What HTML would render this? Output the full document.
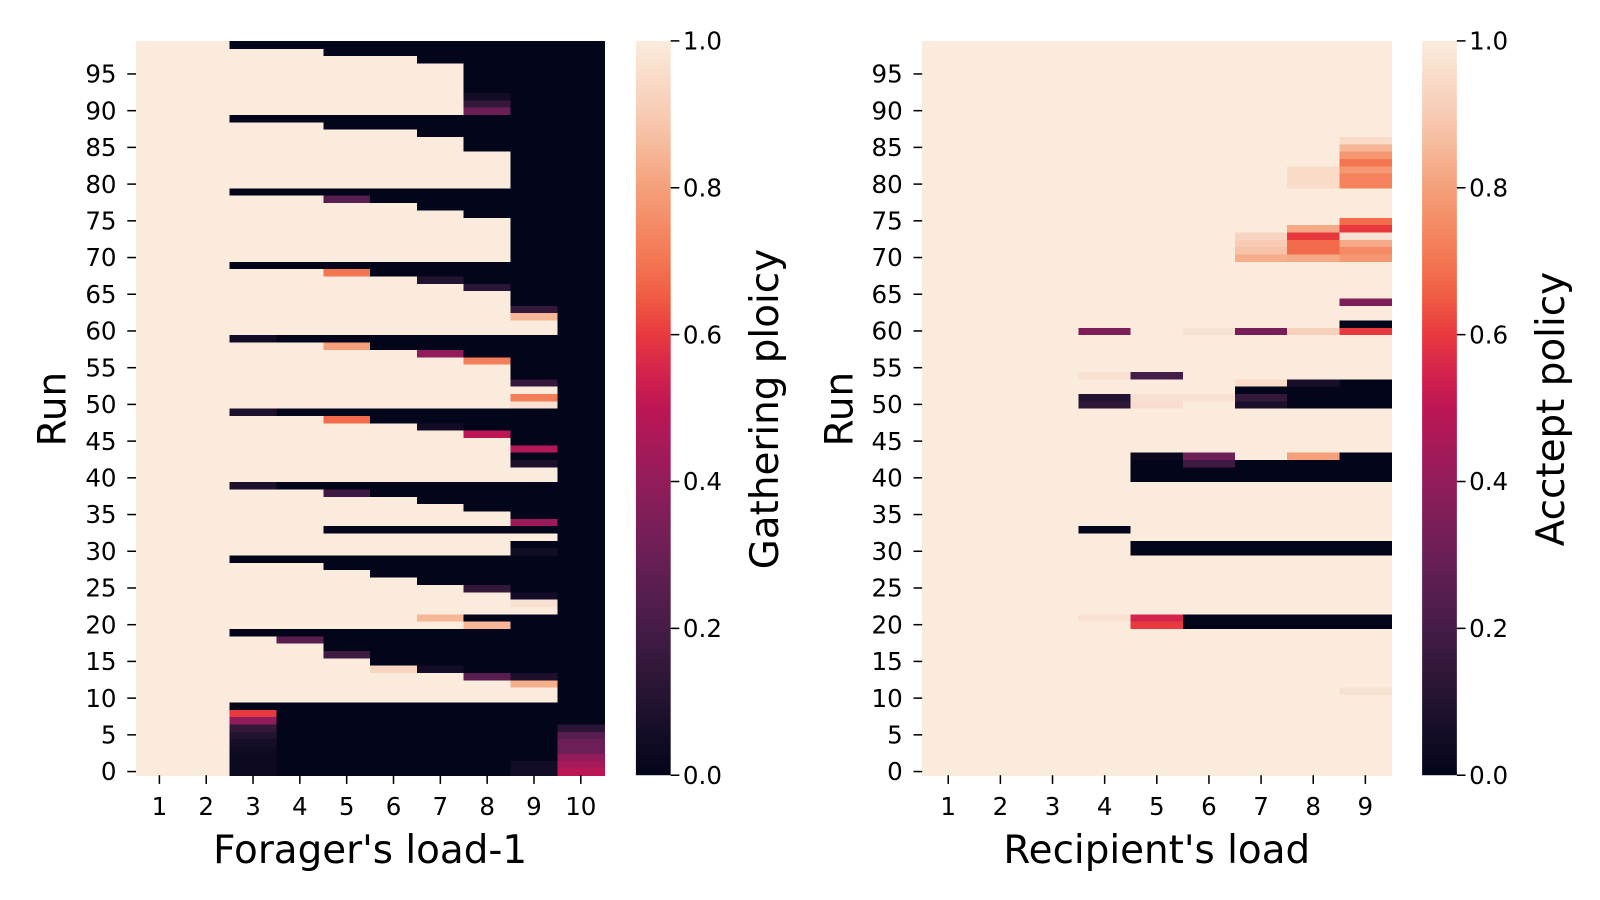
<!DOCTYPE html>
<html><head><meta charset="utf-8"><style>
html,body{margin:0;padding:0;background:#fff;}
svg{display:block;font-family:"DejaVu Sans","Liberation Sans",sans-serif;}
</style></head><body>
<svg id="chart" width="1600" height="900" viewBox="0 0 1565 880" preserveAspectRatio="none" xmlns="http://www.w3.org/2000/svg">
<defs>
<linearGradient id="rocket" x1="0" y1="1" x2="0" y2="0"></linearGradient>
</defs>
<g id="left"></g>
<g id="right"></g>
</svg>
<script>
// ---- data ----
const leftCategories = ["1","2","3","4","5","6","7","8","9","10"];
const rightCategories = ["1","2","3","4","5","6","7","8","9"];
const yTickLabels = ["0","5","10","15","20","25","30","35","40","45","50","55","60","65","70","75","80","85","90","95"];
const cbarTickLabels = ["0.0","0.2","0.4","0.6","0.8","1.0"];
const cbarTickValues = [0,0.2,0.4,0.6,0.8,1.0];
// left rows: row 0 (bottom) to row 99 (top), 10 columns
const leftRows = [
"1 1 .03 0 0 0 0 0 .05 .5",
"1 1 .03 0 0 0 0 0 .05 .45",
"1 1 .03 0 0 0 0 0 0 .4",
"1 1 .04 0 0 0 0 0 0 .3",
"1 1 .06 0 0 0 0 0 0 .3",
"1 1 .1 0 0 0 0 0 0 .25",
"1 1 .15 0 0 0 0 0 0 .12",
"1 1 .4 0 0 0 0 0 0 0",
"1 1 .6 0 0 0 0 0 0 0",
"1 1 0 0 0 0 0 0 0 0",
"1 1 1 1 1 1 1 1 1 0",
"1 1 1 1 1 1 1 1 1 0",
"1 1 1 1 1 1 1 1 .83 0",
"1 1 1 1 1 1 1 .25 .08 0",
"1 1 1 1 1 .93 .05 0 0 0",
"1 1 1 1 1 0 0 0 0 0",
"1 1 1 1 .18 0 0 0 0 0",
"1 1 1 1 0 0 0 0 0 0",
"1 1 1 .25 0 0 0 0 0 0",
"1 1 0 0 0 0 0 0 0 0",
"1 1 1 1 1 1 1 .85 0 0",
"1 1 1 1 1 1 .85 0 0 0",
"1 1 1 1 1 1 1 1 1 0",
"1 1 1 1 1 1 1 1 .97 0",
"1 1 1 1 1 1 1 1 .05 0",
"1 1 1 1 1 1 1 .15 0 0",
"1 1 1 1 1 1 0 0 0 0",
"1 1 1 1 1 0 0 0 0 0",
"1 1 1 1 0 0 0 0 0 0",
"1 1 0 0 0 0 0 0 0 0",
"1 1 1 1 1 1 1 1 .05 0",
"1 1 1 1 1 1 1 1 0 0",
"1 1 1 1 1 1 1 1 1 0",
"1 1 1 1 0 0 0 0 0 0",
"1 1 1 1 1 1 1 1 .42 0",
"1 1 1 1 1 1 1 1 0 0",
"1 1 1 1 1 1 1 0 0 0",
"1 1 1 1 1 1 0 0 0 0",
"1 1 1 1 .18 0 0 0 0 0",
"1 1 .08 0 0 0 0 0 0 0",
"1 1 1 1 1 1 1 1 1 0",
"1 1 1 1 1 1 1 1 1 0",
"1 1 1 1 1 1 1 1 .08 0",
"1 1 1 1 1 1 1 1 0 0",
"1 1 1 1 1 1 1 1 .48 0",
"1 1 1 1 1 1 1 1 0 0",
"1 1 1 1 1 1 1 .5 0 0",
"1 1 1 1 1 1 .05 0 0 0",
"1 1 1 1 .68 0 0 0 0 0",
"1 1 .08 0 0 0 0 0 0 0",
"1 1 1 1 1 1 1 1 .97 0",
"1 1 1 1 1 1 1 1 .72 0",
"1 1 1 1 1 1 1 1 1 0",
"1 1 1 1 1 1 1 1 .15 0",
"1 1 1 1 1 1 1 1 0 0",
"1 1 1 1 1 1 1 1 0 0",
"1 1 1 1 1 1 1 .72 0 0",
"1 1 1 1 1 1 .4 0 0 0",
"1 1 1 1 .8 0 0 0 0 0",
"1 1 .05 0 0 0 0 0 0 0",
"1 1 1 1 1 1 1 1 1 0",
"1 1 1 1 1 1 1 1 1 0",
"1 1 1 1 1 1 1 1 .85 0",
"1 1 1 1 1 1 1 1 .15 0",
"1 1 1 1 1 1 1 1 0 0",
"1 1 1 1 1 1 1 1 0 0",
"1 1 1 1 1 1 1 .12 0 0",
"1 1 1 1 1 1 .1 0 0 0",
"1 1 1 1 .7 0 0 0 0 0",
"1 1 0 0 0 0 0 0 0 0",
"1 1 1 1 1 1 1 1 0 0",
"1 1 1 1 1 1 1 1 0 0",
"1 1 1 1 1 1 1 1 0 0",
"1 1 1 1 1 1 1 1 0 0",
"1 1 1 1 1 1 1 1 0 0",
"1 1 1 1 1 1 1 1 0 0",
"1 1 1 1 1 1 1 0 0 0",
"1 1 1 1 1 1 0 0 0 0",
"1 1 1 1 .25 0 0 0 0 0",
"1 1 0 0 0 0 0 0 0 0",
"1 1 1 1 1 1 1 1 0 0",
"1 1 1 1 1 1 1 1 0 0",
"1 1 1 1 1 1 1 1 0 0",
"1 1 1 1 1 1 1 1 0 0",
"1 1 1 1 1 1 1 1 0 0",
"1 1 1 1 1 1 1 0 0 0",
"1 1 1 1 1 1 1 0 0 0",
"1 1 1 1 1 1 0 0 0 0",
"1 1 1 1 0 0 0 0 0 0",
"1 1 0 0 0 0 0 0 0 0",
"1 1 1 1 1 1 1 .3 0 0",
"1 1 1 1 1 1 1 .15 0 0",
"1 1 1 1 1 1 1 .05 0 0",
"1 1 1 1 1 1 1 0 0 0",
"1 1 1 1 1 1 1 0 0 0",
"1 1 1 1 1 1 1 0 0 0",
"1 1 1 1 1 1 1 0 0 0",
"1 1 1 1 1 1 0 0 0 0",
"1 1 1 1 0 0 0 0 0 0",
"1 1 0 0 0 0 0 0 0 0"
];
const A = "1 1 1 1 1 1 1 1 1";
const rightRows = [
A,A,A,A,A,A,A,A,A,A,A,
"1 1 1 1 1 1 1 1 .97",
A,A,A,A,A,A,A,A,
"1 1 1 1 .6 0 0 0 0",
"1 1 1 .97 .55 0 0 0 0",
A,A,A,A,A,A,A,A,
"1 1 1 1 0 0 0 0 0",
"1 1 1 1 0 0 0 0 0",
A,
"1 1 1 0 1 1 1 1 1",
A,A,A,A,A,A,
"1 1 1 1 0 0 0 0 0",
"1 1 1 1 0 0 0 0 0",
"1 1 1 1 0 .18 0 0 0",
"1 1 1 1 .02 .3 1 .8 0",
A,A,A,A,A,A,
"1 1 1 .13 .96 1 .07 0 0",
"1 1 1 .1 .97 .97 .15 0 0",
"1 1 1 1 1 1 0 0 0",
"1 1 1 1 1 1 .95 .07 0",
"1 1 1 .97 .2 1 1 1 1",
A,A,A,A,A,
"1 1 1 .35 1 .97 .33 .92 .6",
"1 1 1 1 1 1 1 1 0",
A,A,
"1 1 1 1 1 1 1 1 .35",
A,A,A,A,A,
"1 1 1 1 1 1 .83 .82 .78",
"1 1 1 1 1 1 .88 .68 .75",
"1 1 1 1 1 1 .9 .68 .82",
"1 1 1 1 1 1 .93 .6 .97",
"1 1 1 1 1 1 1 .82 .6",
"1 1 1 1 1 1 1 1 .68",
A,A,A,A,
"1 1 1 1 1 1 1 .95 .73",
"1 1 1 1 1 1 1 .95 .73",
"1 1 1 1 1 1 1 .95 .78",
"1 1 1 1 1 1 1 1 .7",
"1 1 1 1 1 1 1 1 .78",
"1 1 1 1 1 1 1 1 .85",
"1 1 1 1 1 1 1 1 .95",
A,A,A,A,A,A,A,A,A,A,A,A,A
];

// ---- colormap (rocket approximation) ----
const stops=[[0,[3,5,26]],[0.1,[34,19,49]],[0.2,[69,28,71]],[0.3,[107,31,86]],[0.4,[146,28,91]],[0.5,[189,22,85]],[0.55,[213,36,76]],[0.6,[232,57,63]],[0.65,[240,91,67]],[0.7,[243,118,81]],[0.8,[245,160,122]],[0.85,[246,183,151]],[0.9,[247,203,180]],[1,[250,235,221]]];
function cmap(v){v=Math.max(0,Math.min(1,v));for(let i=1;i<stops.length;i++){if(v<=stops[i][0]){const a=stops[i-1],b=stops[i];const t=(v-a[0])/(b[0]-a[0]);const c=a[1].map((x,j)=>Math.round(x+(b[1][j]-x)*t));return `rgb(${c[0]},${c[1]},${c[2]})`;}}return "rgb(250,235,221)";}
const NS="http://www.w3.org/2000/svg";
function el(tag,attrs,parent){const e=document.createElementNS(NS,tag);for(const k in attrs)e.setAttribute(k,attrs[k]);parent.appendChild(e);return e;}
const grad=document.getElementById('rocket');
for(let i=0;i<=20;i++){el('stop',{offset:(i/20),'stop-color':cmap(i/20)},grad);}

const TICK_FS=24, TITLE_FS=38;
function drawPanel(g,rows,cats,x0,x1,cbx,xTitle,cbTitle,runX,cbTitleX){
  const y0=40,y1=758,n=rows.length;
  const rh=(y1-y0)/n, cw=(x1-x0)/cats.length;
  const yScale=r=>y1-(r+1)*rh;
  const xScale=c=>x0+c*cw;
  rows.forEach((row,r)=>{
    row.trim().split(/\s+/).map(Number).forEach((v,c)=>{
      const rc=el('rect',{x:xScale(c),y:yScale(r),width:cw+0.6,height:rh+0.6,fill:cmap(v),'shape-rendering':'crispEdges'},g);
      
      
    });
  });
  yTickLabels.forEach((lab,i)=>{
    const r=Number(lab);const yc=y1-(r+0.5)*rh;
    const t=el('line',{x1:x0-8.5,x2:x0,y1:yc,y2:yc,stroke:'#000','stroke-width':1.5},g);
    
    
    const tx=el('text',{x:x0-19,y:yc+8.5,'text-anchor':'end','font-size':TICK_FS,fill:'#000'},g);
    tx.textContent=lab;
    
    
  });
  cats.forEach((lab,c)=>{
    const xc=xScale(c)+cw/2;
    const t=el('line',{x1:xc,x2:xc,y1:y1,y2:y1+8.5,stroke:'#000','stroke-width':1.5},g);
    
    
    const tx=el('text',{x:xc,y:y1+39,'text-anchor':'middle','font-size':TICK_FS,fill:'#000'},g);
    tx.textContent=lab;
    
    
  });
  const xt=el('text',{x:(x0+x1)/2,y:844,'text-anchor':'middle','font-size':TITLE_FS,fill:'#000'},g);
  xt.textContent=xTitle;
  
  
  const yt=el('text',{x:0,y:0,transform:`translate(${runX},400) rotate(-90)`,'text-anchor':'middle','font-size':TITLE_FS,fill:'#000'},g);
  yt.textContent='Run';
  
  
  // colorbar
  const cb=el('rect',{x:cbx,y:y0,width:34,height:y1-y0,fill:'url(#rocket)'},g);
  
  
  cbarTickValues.forEach((v,i)=>{
    const yc=y1-v*(y1-y0);
    const t=el('line',{x1:cbx+34,x2:cbx+42.5,y1:yc,y2:yc,stroke:'#000','stroke-width':1.5},g);
    
    
    const tx=el('text',{x:cbx+46,y:yc+8.5,'font-size':TICK_FS,fill:'#000'},g);
    tx.textContent=cbarTickLabels[i];
    
    
  });
  const ct=el('text',{x:0,y:0,transform:`translate(${cbTitleX},400) rotate(-90)`,'text-anchor':'middle','font-size':TITLE_FS,fill:'#000'},g);
  ct.textContent=cbTitle;
  
  
}
drawPanel(document.getElementById('left'),leftRows,leftCategories,133,591,622,"Forager's load-1","Gathering ploicy",64,761);
drawPanel(document.getElementById('right'),rightRows,rightCategories,902,1361,1391,"Recipient's load","Acctept policy",834,1530);
</script>
</body></html>
